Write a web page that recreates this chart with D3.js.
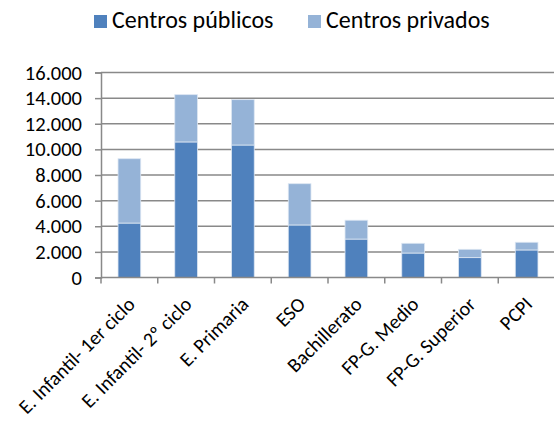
<!DOCTYPE html>
<html>
<head>
<meta charset="utf-8">
<script src="https://cdn.jsdelivr.net/npm/d3@7"></script>
<style>
  body { margin: 0; background: #fff; }
  text { font-family: Carlito, Lato, "Liberation Sans", sans-serif; fill: #000; }
</style>
</head>
<body>
<div id="chart"></div>
<script>
// data
var categories = ["E. Infantil- 1er ciclo", "E. Infantil- 2º ciclo", "E. Primaria", "ESO",
                  "Bachillerato", "FP-G. Medio", "FP-G. Superior", "PCPI"]
var publicos = [4250, 10580, 10340, 4100, 3000, 1910, 1550, 2150]
var privados = [5020, 3690, 3540, 3220, 1470, 760, 650, 600]
var seriesNames = ["Centros públicos", "Centros privados"]
var colors = ["#4F81BD", "#95B3D7"]
var yTicks = [0, 2000, 4000, 6000, 8000, 10000, 12000, 14000, 16000]

var width = 554, height = 423
var margin = {top: 72.5, left: 101, right: 554 - 555, bottom: 423 - 277.5}

var svg = d3.select("#chart").append("svg")
  .attr("width", width)
  .attr("height", height)

var x = d3.scaleBand()
  .domain(categories)
  .range([margin.left, width - margin.right])
  .paddingInner(0.6)
  .paddingOuter(0.3)

var y = d3.scaleLinear()
  .domain([0, 16000])
  .range([height - margin.bottom, margin.top])

var locale = d3.formatLocale({decimal: ",", thousands: ".", grouping: [3], currency: ["", "€"]})
var fmt = locale.format(",")

// gridlines
svg.append("g")
  .selectAll("line")
  .data(yTicks.slice(1))
  .enter()
  .append("line")
  .attr("x1", margin.left)
  .attr("x2", width)
  .attr("y1", function(d) { return y(d) })
  .attr("y2", function(d) { return y(d) })
  .attr("stroke", "#898989")
  .attr("stroke-width", 1.5)

// stacked bars
var rows = categories.map(function(c, i) {
  return {cat: c, pub: publicos[i], priv: privados[i]}
})
var stack = d3.stack().keys(["pub", "priv"])(rows)

svg.append("g")
  .selectAll("g")
  .data(stack)
  .enter()
  .append("g")
  .attr("fill", function(d, i) { return colors[i] })
  .selectAll("rect")
  .data(function(d) { return d })
  .enter()
  .append("rect")
  .attr("x", function(d) { return x(d.data.cat) })
  .attr("width", x.bandwidth())
  .attr("y", function(d) { return y(d[1]) })
  .attr("height", function(d) { return y(d[0]) - y(d[1]) })
  .attr("stroke", "#dce6f2")
  .attr("stroke-width", 0.8)

// y axis
var yAxis = svg.append("g")
  .attr("transform", "translate(" + margin.left + ",0)")
  .call(d3.axisLeft(y).tickValues(yTicks).tickFormat(fmt).tickSize(6).tickPadding(13))
yAxis.select(".domain").attr("stroke", "#898989").attr("stroke-width", 1.5)
yAxis.selectAll(".tick line").attr("stroke", "#898989").attr("stroke-width", 1.5)
yAxis.selectAll("text").style("font-size", "20.5px").attr("fill", "#000")

// x axis: ticks between categories
var xAxis = svg.append("g")
  .attr("transform", "translate(0," + y(0) + ")")
xAxis.append("line")
  .attr("x1", margin.left).attr("x2", width)
  .attr("stroke", "#898989").attr("stroke-width", 1.5)
xAxis.selectAll(".sep")
  .data(categories)
  .enter()
  .append("line")
  .attr("x1", function(d) { return x(d) - x.bandwidth() * 0.75 })
  .attr("x2", function(d) { return x(d) - x.bandwidth() * 0.75 })
  .attr("y1", 0).attr("y2", 6)
  .attr("stroke", "#898989").attr("stroke-width", 1.5)

xAxis.selectAll(".lbl")
  .data(categories)
  .enter()
  .append("text")
  .attr("transform", function(d) {
    return "translate(" + (x(d) + x.bandwidth() / 2 + 2) + ",23) rotate(-45)"
  })
  .attr("text-anchor", "end")
  .attr("dy", "0.35em")
  .style("font-size", "20px")
  .text(function(d) { return d })

// legend
var legendX = [94, 308]
var legend = svg.append("g")
seriesNames.forEach(function(name, i) {
  legend.append("rect")
    .attr("x", legendX[i]).attr("y", 15)
    .attr("width", 13).attr("height", 13)
    .attr("fill", colors[i])
  legend.append("text")
    .attr("x", legendX[i] + 18).attr("y", 28.3)
    .style("font-size", "24px")
    .text(name)
})
</script>
</body>
</html>
